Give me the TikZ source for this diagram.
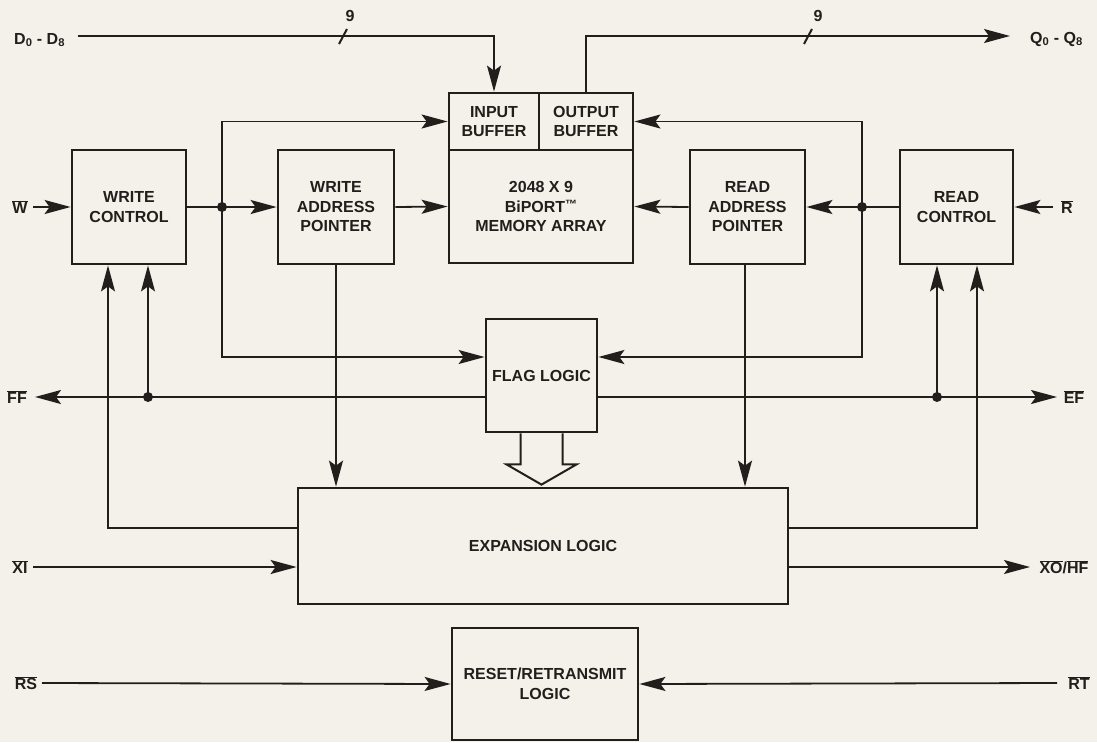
\documentclass[tikz,border=0pt]{standalone}
\usepackage{fontspec}
\setmainfont{Liberation Sans}
\usetikzlibrary{arrows.meta,calc}
\definecolor{paper}{RGB}{244,241,234}
\definecolor{ink}{RGB}{34,30,28}
\newcommand{\ob}[1]{$\overline{\mbox{#1}}$}
\begin{document}
\begin{tikzpicture}[x=1pt,y=-1pt,
  blk/.style={draw=ink, line width=2.8pt, text=ink, font=\fontsize{16}{19.5}\selectfont\bfseries, align=center, inner sep=0pt},
  wire/.style={draw=ink, line width=1.8pt},
  arr/.style={wire, -{Stealth[length=26pt,width=14pt,inset=5pt]}},
  lab/.style={text=ink, font=\fontsize{16}{18}\selectfont\bfseries, inner sep=0pt},
  jdot/.style={circle, fill=ink, inner sep=0pt, minimum size=10pt}]
\fill[paper] (0,0) rectangle (1097,742);
\useasboundingbox (0,0) rectangle (1097,742);

% blocks
\node[blk, minimum width=114pt, minimum height=114pt] (wc) at (129,207) {WRITE\\CONTROL};
\node[blk, minimum width=116pt, minimum height=114pt] (wap) at (336,207) {WRITE\\ADDRESS\\POINTER};
\node[blk, minimum width=90pt, minimum height=57pt] (ib) at (494,121.5) {INPUT\\BUFFER};
\node[blk, minimum width=94pt, minimum height=57pt] (ob) at (586,121.5) {OUTPUT\\BUFFER};
\node[blk, minimum width=184pt, minimum height=113pt] (ma) at (541,206.5) {2048 X 9\\BiPORT\raisebox{4pt}{\fontsize{12}{12}\selectfont ™}\\MEMORY ARRAY};
\node[blk, minimum width=115pt, minimum height=114pt] (rap) at (747.5,207) {READ\\ADDRESS\\POINTER};
\node[blk, minimum width=113pt, minimum height=114pt] (rc) at (956.5,207) {READ\\CONTROL};
\node[blk, minimum width=111pt, minimum height=113pt] (flag) at (541.5,375.5) {FLAG LOGIC};
\node[blk, minimum width=490pt, minimum height=116pt] (exp) at (543,546) {EXPANSION LOGIC};
\node[blk, minimum width=186pt, minimum height=112pt] (rst) at (545,684) {RESET/RETRANSMIT\\LOGIC};

% pin labels
\node[lab, anchor=base west] (D) at (14,44) {D\textsubscript{0} - D\textsubscript{8}};
\node[lab, anchor=base west] (Q) at (1030,43) {Q\textsubscript{0} - Q\textsubscript{8}};
\node[lab] (W) at (20,207) {\ob{W}};
\node[lab] (R) at (1067,207) {\ob{R}};
\node[lab] (FF) at (17,397) {\ob{FF}};
\node[lab] (EF) at (1074,397) {\ob{EF}};
\node[lab] (XI) at (20,567) {\ob{XI}};
\node[lab] (XO) at (1064,567) {\ob{XO}/\ob{HF}};
\node[lab] (RS) at (26,683) {\ob{RS}};
\node[lab] (RT) at (1079,683) {\ob{RT}};
\node[lab] (n9a) at (350,16) {9};
\node[lab] (n9b) at (818,16) {9};

% free ends and junctions
\coordinate (dstart) at (78,36);
\coordinate (qend) at (1010,36);
\coordinate (wstart) at (33,207);
\coordinate (rstart) at (1053,207);
\coordinate (ffend) at (35,397);
\coordinate (efend) at (1057,397);
\coordinate (xistart) at (33,567);
\coordinate (xoend) at (1030,567);
\coordinate (rsstart) at (42,683);
\coordinate (rtstart) at (1057,683);
\coordinate (jw) at (222,207);
\coordinate (jr) at (862,207);
\coordinate (jf) at (148,397);
\coordinate (je) at (937,397);
\coordinate (cwl) at (108,528);
\coordinate (crl) at (977,528);

% data bus
\draw[arr] (dstart) -| (ib.north);
\draw[arr] (ob.north) |- (qend);
\draw[wire, line width=2pt] (339,44) -- (347,29);
\draw[wire, line width=2pt] (804,44) -- (812,29);

% write side
\draw[arr] (wstart) -- (wc.west);
\draw[wire] (wc.east) -- (jw);
\draw[arr] (jw) -- (wap.west);
\draw[arr] (jw) |- (ib.west);
\draw[arr] (jw) |- ($(flag.west)+(0,-18.5)$);
\draw[arr] (wap.east) -- (ma.west);
\draw[arr] (wap.south) -- (wap.south |- exp.north);
\node[jdot] at (jw) {};

% read side
\draw[arr] (rstart) -- (rc.east);
\draw[wire] (rc.west) -- (jr);
\draw[arr] (jr) -- (rap.east);
\draw[arr] (jr) |- (ob.east);
\draw[arr] (jr) |- ($(flag.east)+(0,-18.5)$);
\draw[arr] (rap.west) -- (ma.east);
\draw[arr] ($(rap.south)+(-2.5,0)$) -- ($(rap.south |- exp.north)+(-2.5,0)$);
\node[jdot] at (jr) {};

% flags
\draw[arr] ($(flag.west)+(0,21.5)$) -- (ffend);
\draw[arr] (jf) -- (jf |- wc.south);
\draw[arr] ($(flag.east)+(0,21.5)$) -- (efend);
\draw[arr] (je) -- (je |- rc.south);
\node[jdot] at (jf) {};
\node[jdot] at (je) {};

% expansion
\draw[arr] (exp.west |- cwl) -- (cwl) -- (cwl |- wc.south);
\draw[arr] (exp.east |- crl) -- (crl) -- (crl |- rc.south);
\draw[arr] (xistart) -- (exp.west |- xistart);
\draw[arr] (exp.east |- xoend) -- (xoend);

% reset
\draw[arr] (rsstart) -- (rst.west);
\draw[arr] (rtstart) -- (rst.east);

% hollow arrow flag -> expansion
\draw[wire, line width=2pt, fill=paper, line join=miter]
  ($(flag.south)+(-21,0)$) -- ++(0,31) -- ++(-14,0)
  -- ($(flag.south |- exp.north)+(0,-2)$)
  -- ($(flag.south)+(35,31)$) -- ++(-14,0) -- ($(flag.south)+(21,0)$);
\end{tikzpicture}
\end{document}
